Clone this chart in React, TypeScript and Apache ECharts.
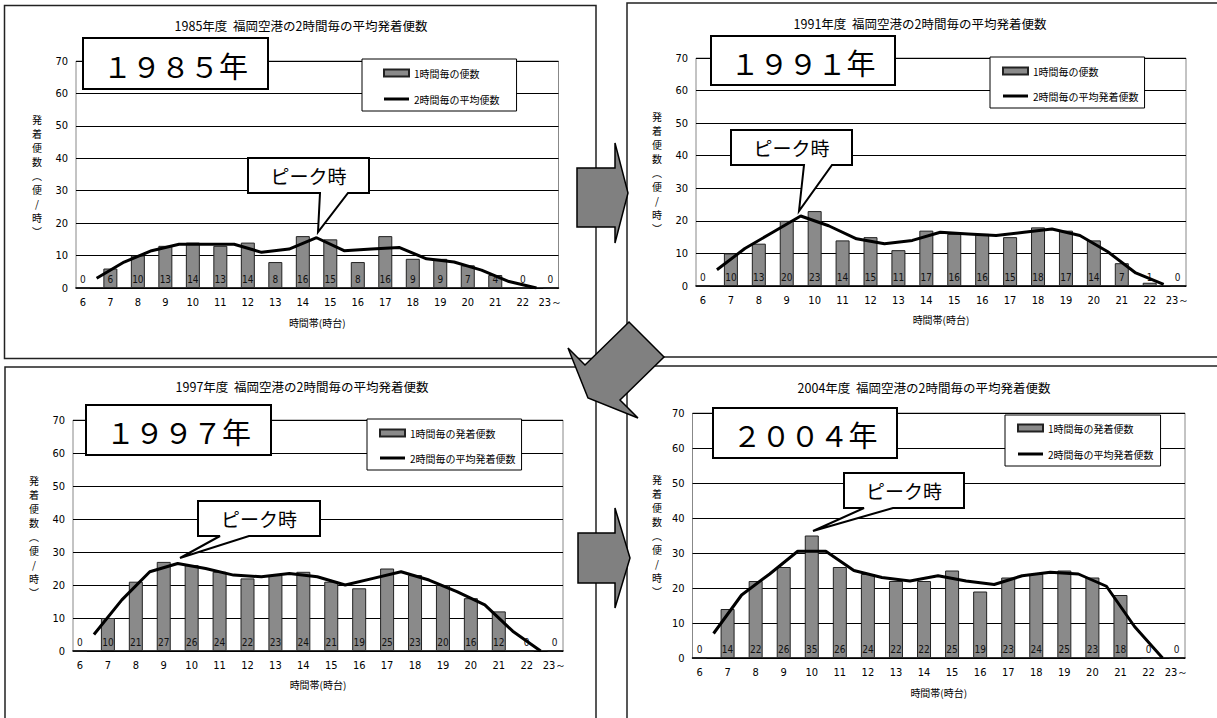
import React, { useEffect, useRef } from 'react';
import * as echarts from 'echarts';

const JP = "'Noto Sans CJK JP', 'Noto Sans', sans-serif";
const NARROW = "'Liberation Sans Narrow', 'Arial Narrow', 'DejaVu Sans Condensed', 'Liberation Sans', sans-serif";

// ---- data ----
const hours = [6, 7, 8, 9, 10, 11, 12, 13, 14, 15, 16, 17, 18, 19, 20, 21, 22, 23];
const hourLabels = ['6', '7', '8', '9', '10', '11', '12', '13', '14', '15', '16', '17', '18', '19', '20', '21', '22', '23～'];
const halfHours = [6.5, 7.5, 8.5, 9.5, 10.5, 11.5, 12.5, 13.5, 14.5, 15.5, 16.5, 17.5, 18.5, 19.5, 20.5, 21.5, 22.5];

const yearLabels = ['１９８５年', '１９９１年', '１９９７年', '２００４年'];
const chartTitles = [
  '1985年度  福岡空港の2時間毎の平均発着便数',
  '1991年度  福岡空港の2時間毎の平均発着便数',
  '1997年度  福岡空港の2時間毎の平均発着便数',
  '2004年度  福岡空港の2時間毎の平均発着便数',
];
const barNames = ['1時間毎の便数', '1時間毎の便数', '1時間毎の発着便数', '1時間毎の発着便数'];
const lineNames = ['2時間毎の平均便数', '2時間毎の平均発着便数', '2時間毎の平均発着便数', '2時間毎の平均発着便数'];

const flights1985 = [0, 6, 10, 13, 14, 13, 14, 8, 16, 15, 8, 16, 9, 9, 7, 4, 0, 0];
const flights1991 = [0, 10, 13, 20, 23, 14, 15, 11, 17, 16, 16, 15, 18, 17, 14, 7, 1, 0];
const flights1997 = [0, 10, 21, 27, 26, 24, 22, 23, 24, 21, 19, 25, 23, 20, 16, 12, 0, 0];
const flights2004 = [0, 14, 22, 26, 35, 26, 24, 22, 22, 25, 19, 23, 24, 25, 23, 18, 0, 0];

const avg1985 = [3, 8, 11.5, 13.5, 13.5, 13.5, 11, 12, 15.5, 11.5, 12, 12.5, 9, 8, 5.5, 2, 0];
const avg1991 = [5, 11.5, 16.5, 21.5, 18.5, 14.5, 13, 14, 16.5, 16, 15.5, 16.5, 17.5, 15.5, 10.5, 4, 0.5];
const avg1997 = [5, 15.5, 24, 26.5, 25, 23, 22.5, 23.5, 22.5, 20, 22, 24, 21.5, 18, 14, 6, 0];
const avg2004 = [7, 18, 24, 30.5, 30.5, 25, 23, 22, 23.5, 22, 21, 23.5, 24.5, 24, 20.5, 9, 0];

const flightsByPanel = [flights1985, flights1991, flights1997, flights2004];
const averagesByPanel = [avg1985, avg1991, avg1997, avg2004];

const yAxisTitle = ['発', '着', '便', '数', '︵', '便', '/', '時', '︶'];
const xAxisTitle = '時間帯(時台)';
const peakLabel = 'ピーク時';

// ---- layout ----
type Pt = [number, number];
const layouts = [
  {
    frame: { x: 4.5, y: 5.5, width: 591.5, height: 353 },
    grid: { left: 76, top: 61, width: 482.5, height: 227 },
    titleAt: [301, 25], yNameAt: [37, 175], xNameGap: 29,
    yearBox: { x: 83, y: 38, width: 185, height: 51 },
    legend: { left: 362, top: 59, padding: [9, 17, 7, 21], gap: 16 },
    callout: [[248, 158], [369, 158], [369, 193], [348, 193], [318, 232], [320, 193], [248, 193]] as Pt[],
  },
  {
    frame: { x: 627, y: 3, width: 600, height: 354 },
    grid: { left: 696, top: 58, width: 490, height: 228 },
    titleAt: [920, 23], yNameAt: [657, 172], xNameGap: 28,
    yearBox: { x: 711, y: 36, width: 184, height: 49 },
    legend: { left: 990, top: 57, padding: [9, 6, 7, 12], gap: 15 },
    callout: [[731, 130], [852, 130], [852, 165], [832, 165], [799, 211], [804, 165], [731, 165]] as Pt[],
  },
  {
    frame: { x: 5, y: 367, width: 591, height: 360 },
    grid: { left: 73, top: 420, width: 490, height: 231 },
    titleAt: [302, 386], yNameAt: [34, 536], xNameGap: 28,
    yearBox: { x: 86, y: 405, width: 185, height: 50 },
    legend: { left: 367, top: 419, padding: [9, 6, 7, 12], gap: 15 },
    callout: [[198, 501], [320, 501], [320, 536], [249, 536], [180, 558], [220, 536], [198, 536]] as Pt[],
  },
  {
    frame: { x: 627, y: 366, width: 600, height: 360 },
    grid: { left: 692.5, top: 413, width: 492.5, height: 245 },
    titleAt: [924, 387], yNameAt: [657, 535], xNameGap: 29,
    yearBox: { x: 713, y: 408, width: 184, height: 50 },
    legend: { left: 1005, top: 415, padding: [8, 7, 7, 12], gap: 16 },
    callout: [[844, 473], [964, 473], [964, 508], [893, 508], [813, 531], [864, 508], [844, 508]] as Pt[],
  },
];

const arrows: Pt[][] = [
  [[577, 168], [615, 168], [615, 143], [628, 193], [615, 243], [615, 227], [577, 227]],
  [[588, 398], [568, 348], [585, 365], [629, 322], [664, 357], [620, 400], [638, 418]],
  [[578, 533], [615, 533], [615, 508], [630, 558], [615, 608], [615, 583], [578, 583]],
];

function buildOption() {
  const graphics: any[] = [];
  layouts.forEach((l, i) => {
    graphics.push({
      type: 'rect', z: 1, shape: l.frame,
      style: { fill: 'none', stroke: '#222', lineWidth: 1.5 },
    });
    graphics.push({
      type: 'text', z: 100, x: l.titleAt[0], y: l.titleAt[1],
      style: { text: chartTitles[i], fill: '#000', fontSize: 12.5, fontFamily: JP, align: 'center', verticalAlign: 'middle' },
    });
    graphics.push({
      type: 'text', z: 100, x: l.yNameAt[0], y: l.yNameAt[1],
      style: { text: yAxisTitle.join('\n'), fill: '#000', fontSize: 10, lineHeight: 14, fontFamily: JP, align: 'center', verticalAlign: 'middle' },
    });
    graphics.push({
      type: 'rect', z: 100, shape: l.yearBox,
      style: { fill: '#fff', stroke: '#000', lineWidth: 2 },
    });
    graphics.push({
      type: 'text', z: 101, x: l.yearBox.x + l.yearBox.width / 2, y: l.yearBox.y + l.yearBox.height / 2 + 1,
      style: { text: yearLabels[i], fill: '#000', fontSize: 29, fontFamily: JP, align: 'center', verticalAlign: 'middle' },
    });
    graphics.push({
      type: 'polygon', z: 100, shape: { points: l.callout },
      style: { fill: '#fff', stroke: '#000', lineWidth: 2 },
    });
    const cx = (l.callout[0][0] + l.callout[1][0]) / 2;
    const cy = (l.callout[0][1] + l.callout[2][1]) / 2;
    graphics.push({
      type: 'text', z: 101, x: cx, y: cy,
      style: { text: peakLabel, fill: '#000', fontSize: 19, fontFamily: JP, align: 'center', verticalAlign: 'middle' },
    });
  });
  arrows.forEach((pts) => {
    graphics.push({
      type: 'polygon', z: 110, shape: { points: pts },
      style: { fill: '#808080', stroke: '#000', lineWidth: 1.5 },
    });
  });

  const series: any[] = [];
  layouts.forEach((l, i) => {
    series.push({
      type: 'bar', name: barNames[i], xAxisIndex: i, yAxisIndex: i,
      data: hours.map((h, k) => [h, flightsByPanel[i][k]]),
      barWidth: 14,
      itemStyle: { color: '#8a8a8a', borderColor: '#222', borderWidth: 1 },
      label: {
        show: true, position: 'insideBottom', distance: 4, fontSize: 10, color: '#111', fontFamily: NARROW,
        formatter: (p: any) => String(p.value[1]),
      },
      z: 2,
    });
    series.push({
      type: 'line', name: lineNames[i], xAxisIndex: i, yAxisIndex: i,
      data: halfHours.map((h, k) => [h, averagesByPanel[i][k]]),
      symbol: 'none', showSymbol: false,
      lineStyle: { color: '#000', width: 3 },
      itemStyle: { color: '#000' },
      z: 3,
    });
  });

  return {
    animation: false,
    backgroundColor: '#fff',
    textStyle: { fontFamily: JP },
    graphic: { elements: graphics },
    grid: layouts.map((l) => ({ ...l.grid, show: true, borderColor: '#888', borderWidth: 1, backgroundColor: 'transparent' })),
    xAxis: layouts.map((l, i) => ({
      type: 'value', gridIndex: i, min: 5.75, max: 23.3,
      axisLine: { show: true, onZero: false, lineStyle: { color: '#000', width: 1.5 } },
      axisTick: { show: false },
      splitLine: { show: false },
      axisLabel: {
        customValues: hours, margin: 9, fontSize: 11, color: '#000', fontFamily: NARROW,
        formatter: (v: number) => { const k = hours.indexOf(Math.round(v)); return k >= 0 ? hourLabels[k] : ''; },
      },
      name: xAxisTitle, nameLocation: 'middle', nameGap: l.xNameGap,
      nameTextStyle: { fontSize: 10, color: '#000', fontFamily: JP },
    })),
    yAxis: layouts.map((l, i) => ({
      type: 'value', gridIndex: i, min: 0, max: 70, interval: 10,
      axisLine: { show: false }, axisTick: { show: false },
      axisLabel: { margin: 8, fontSize: 11, color: '#000', fontFamily: NARROW },
      splitLine: { show: true, lineStyle: { color: '#000', width: 1 } },
    })),
    legend: layouts.map((l, i) => ({
      orient: 'vertical', left: l.legend.left, top: l.legend.top,
      padding: l.legend.padding, itemGap: l.legend.gap,
      itemWidth: 25, itemHeight: 7, itemTextGap: 4,
      backgroundColor: '#fff', borderColor: '#000', borderWidth: 1,
      selectedMode: false, z: 50,
      textStyle: { fontSize: 10, color: '#000', fontFamily: JP },
      data: [
        { name: barNames[i], icon: 'rect' },
        { name: lineNames[i], icon: 'path://M0 0H25V3H0Z', itemStyle: { color: '#000' } },
      ],
    })),
    series,
  };
}

export default function App() {
  const ref = useRef<HTMLDivElement>(null);
  useEffect(() => {
    const chart = echarts.init(ref.current!, null, { renderer: 'svg' });
    chart.setOption(buildOption() as any);
    return () => chart.dispose();
  }, []);
  return (
    <div
      ref={ref}
      style={{ position: 'absolute', left: 0, top: 0, width: 1217, height: 718, background: '#fff' }}
    />
  );
}
